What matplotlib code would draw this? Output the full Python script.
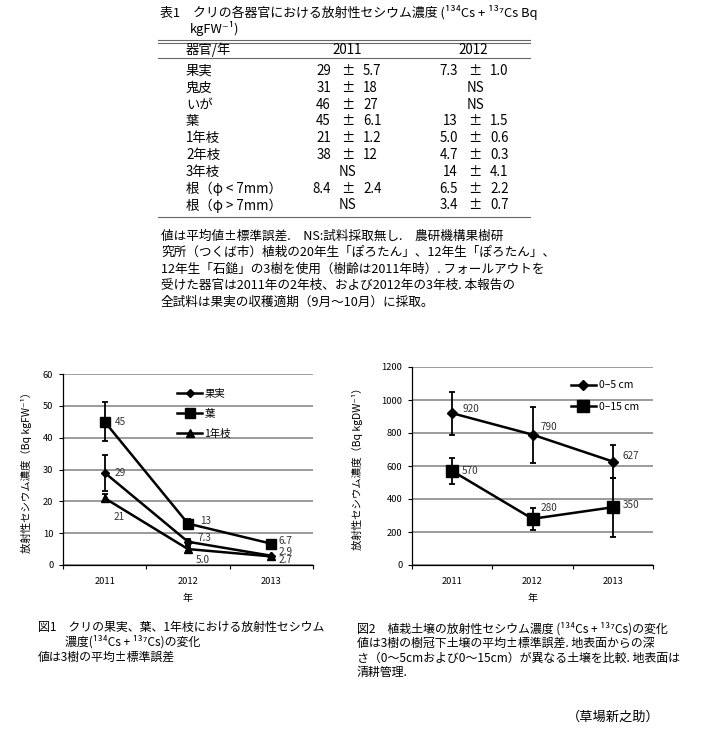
import matplotlib.pyplot as plt
from matplotlib.lines import Line2D

plt.rcParams['font.family'] = ['Noto Sans CJK JP', 'DejaVu Sans']

W, H = 705, 730
fig = plt.figure(figsize=(W / 100, H / 100), dpi=100)


def put(x, y, s, size=9.6, ha='left', **kw):
    # x, y in pixels from the top-left corner
    fig.text(x / W, 1 - y / H, s, fontsize=size, ha=ha, va='center', **kw)


def hline(x0, x1, y, lw=0.8, color='#666666'):
    fig.add_artist(Line2D([x0 / W, x1 / W], [1 - y / H] * 2, lw=lw, color=color))


# ---- 表1 data ----
organs = ['果実', '鬼皮', 'いが', '葉', '1年枝', '2年枝', '3年枝', '根（φ < 7mm）', '根（φ > 7mm）']
mean_2011 = ['29', '31', '46', '45', '21', '38', None, '8.4', None]
se_2011 = ['5.7', '18', '27', '6.1', '1.2', '12', None, '2.4', None]
mean_2012 = ['7.3', None, None, '13', '5.0', '4.7', '14', '6.5', '3.4']
se_2012 = ['1.0', None, None, '1.5', '0.6', '0.3', '4.1', '2.2', '0.7']

table_notes = [
    '値は平均値±標準誤差.　NS:試料採取無し.　農研機構果樹研',
    '究所（つくば市）植栽の20年生「ぽろたん」、12年生「ぽろたん」、',
    '12年生「石鎚」の3樹を使用（樹齢は2011年時）. フォールアウトを',
    '受けた器官は2011年の2年枝、および2012年の3年枝. 本報告の',
    '全試料は果実の収穫適期（9月～10月）に採取。',
]

# ---- 図1 data ----
years = ['2011', '2012', '2013']
fruit = [29, 7.3, 2.9]
fruit_se = [5.7, 1.0, 0]
leaf = [45, 13, 6.7]
leaf_se = [6.1, 1.5, 0]
shoot = [21, 5.0, 2.7]
shoot_se = [1.2, 0.6, 0]
fruit_lbl = ['29', '7.3', '2.9']
leaf_lbl = ['45', '13', '6.7']
shoot_lbl = ['21', '5.0', '2.7']

# ---- 図2 data ----
soil5 = [920, 790, 627]
soil5_se = [130, 170, 100]
soil15 = [570, 280, 350]
soil15_se = [78, 65, 180]
soil5_lbl = ['920', '790', '627']
soil15_lbl = ['570', '280', '350']

# ================= table =================
put(160, 13, '表1　クリの各器官における放射性セシウム濃度 (¹³⁴Cs + ¹³⁷Cs Bq', size=9.3)
put(190, 29, 'kgFW⁻¹)', size=9.3)
hline(158, 530, 40)
hline(158, 530, 42.5)
put(186, 50, '器官/年')
put(347, 50, '2011', ha='center')
put(473, 50, '2012', ha='center')
hline(158, 530, 58)

row_y0, row_dy = 71, 16.8
for i, name in enumerate(organs):
    y = row_y0 + i * row_dy
    put(186, y, name)
    for m, s, xc in [(mean_2011[i], se_2011[i], 348), (mean_2012[i], se_2012[i], 475)]:
        if m is None:
            put(xc, y, 'NS', ha='center')
        else:
            put(xc - 17, y, m, ha='right')
            put(xc, y, '±', ha='center')
            put(xc + 15, y, s, ha='left')
hline(158, 530, 217)

for i, line in enumerate(table_notes):
    put(161, 236 + i * 16.6, line, size=9.1)

# ================= 図1 =================
ax1 = fig.add_axes([63 / W, 165 / H, 250 / W, 191 / H])
x = range(len(years))
line_kw = dict(color='black', lw=1.8)
err_kw = dict(fmt='none', ecolor='black', elinewidth=1.3, capsize=2.3, capthick=1.3)
for vals, err, mk, ms, name in [(fruit, fruit_se, 'D', 4.5, '果実'),
                                (leaf, leaf_se, 's', 7, '葉'),
                                (shoot, shoot_se, '^', 6, '1年枝')]:
    ax1.errorbar(x, vals, yerr=err, **err_kw)
    ax1.plot(x, vals, marker=mk, ms=ms, label=name, **line_kw)

lbl_kw = dict(textcoords='offset pixels', fontsize=7.2, color='#333333', va='center', ha='left')
for i, (v, s) in enumerate(zip(fruit, fruit_lbl)):
    off = [(10, 0), (10, 4), (7, 4)][i]
    ax1.annotate(s, (i, v), xytext=off, **lbl_kw)
for i, (v, s) in enumerate(zip(leaf, leaf_lbl)):
    off = [(10, 0), (12, 3), (7, 3)][i]
    ax1.annotate(s, (i, v), xytext=off, **lbl_kw)
for i, (v, s) in enumerate(zip(shoot, shoot_lbl)):
    off = [(9, -19), (8, -11), (7, -4)][i]
    ax1.annotate(s, (i, v), xytext=off, **lbl_kw)

ax1.set_ylim(0, 60)
ax1.set_yticks(range(0, 61, 10))
ax1.set_xlim(-0.5, 2.5)
ax1.set_xticks([-0.5, 0.5, 1.5, 2.5])
ax1.set_xticklabels([])
ax1.set_xticks(list(x), minor=True)
ax1.set_xticklabels(years, minor=True)
ax1.tick_params(axis='x', which='minor', length=0, pad=9, labelsize=6.7)
ax1.tick_params(axis='x', which='major', length=3, width=0.8)
ax1.tick_params(axis='y', length=3, width=0.8, labelsize=6.7, pad=4)
ax1.grid(axis='y', color='#808080', lw=1.1)
ax1.set_axisbelow(True)
for sp in ['top', 'right']:
    ax1.spines[sp].set_visible(False)
ax1.spines['left'].set_linewidth(0.9)
ax1.spines['bottom'].set_linewidth(0.9)
ax1.set_xlabel('年', fontsize=7.2, labelpad=5)
ax1.set_ylabel('放射性セシウム濃度（Bq kgFW⁻¹）', fontsize=7.5, labelpad=8)
ax1.legend(loc='upper left', bbox_to_anchor=(0.42, 0.97), frameon=False, fontsize=7.5,
           handlelength=2.4, handletextpad=0.2, labelspacing=0.95)

# ================= 図2 =================
ax2 = fig.add_axes([412 / W, 165 / H, 241 / W, 198 / H])
for vals, err, mk, ms, name in [(soil5, soil5_se, 'D', 5, '0–5 cm'),
                                (soil15, soil15_se, 's', 8, '0–15 cm')]:
    ax2.errorbar(x, vals, yerr=err, **err_kw)
    ax2.plot(x, vals, marker=mk, ms=ms, label=name, **line_kw)
for i, (v, s) in enumerate(zip(soil5, soil5_lbl)):
    off = [(10, 4), (8, 8), (10, 6)][i]
    ax2.annotate(s, (i, v), xytext=off, **lbl_kw)
for i, (v, s) in enumerate(zip(soil15, soil15_lbl)):
    off = [(10, 0), (8, 11), (10, 2)][i]
    ax2.annotate(s, (i, v), xytext=off, **lbl_kw)

ax2.set_ylim(0, 1200)
ax2.set_yticks(range(0, 1201, 200))
ax2.set_xlim(-0.5, 2.5)
ax2.set_xticks([-0.5, 0.5, 1.5, 2.5])
ax2.set_xticklabels([])
ax2.set_xticks(list(x), minor=True)
ax2.set_xticklabels(years, minor=True)
ax2.tick_params(axis='x', which='minor', length=0, pad=9, labelsize=6.7)
ax2.tick_params(axis='x', which='major', length=3, width=0.8)
ax2.tick_params(axis='y', length=3, width=0.8, labelsize=6.7, pad=4)
ax2.grid(axis='y', color='#808080', lw=1.1)
ax2.set_axisbelow(True)
for sp in ['top', 'right']:
    ax2.spines[sp].set_visible(False)
ax2.spines['left'].set_linewidth(0.9)
ax2.spines['bottom'].set_linewidth(0.9)
ax2.set_xlabel('年', fontsize=7.2, labelpad=5)
ax2.set_ylabel('放射性セシウム濃度（Bq kgDW⁻¹）', fontsize=7.5, labelpad=13)
ax2.legend(loc='upper left', bbox_to_anchor=(0.62, 0.98), frameon=False, fontsize=7.5,
           handlelength=2.4, handletextpad=0.3, labelspacing=1.1)

# ================= captions =================
put(38, 627, '図1　クリの果実、葉、1年枝における放射性セシウム', size=8.6)
put(65, 642, '濃度(¹³⁴Cs + ¹³⁷Cs)の変化', size=8.6)
put(38, 657, '値は3樹の平均±標準誤差', size=8.6)

put(357, 629, '図2　植栽土壌の放射性セシウム濃度 (¹³⁴Cs + ¹³⁷Cs)の変化', size=8.6)
put(357, 643, '値は3樹の樹冠下土壌の平均±標準誤差. 地表面からの深', size=8.6)
put(357, 658, 'さ（0～5cmおよび0～15cm）が異なる土壌を比較. 地表面は', size=8.6)
put(357, 672, '清耕管理.', size=8.6)
put(567, 717, '（草場新之助）', size=9.5)

fig.savefig('out.png', dpi=100)
